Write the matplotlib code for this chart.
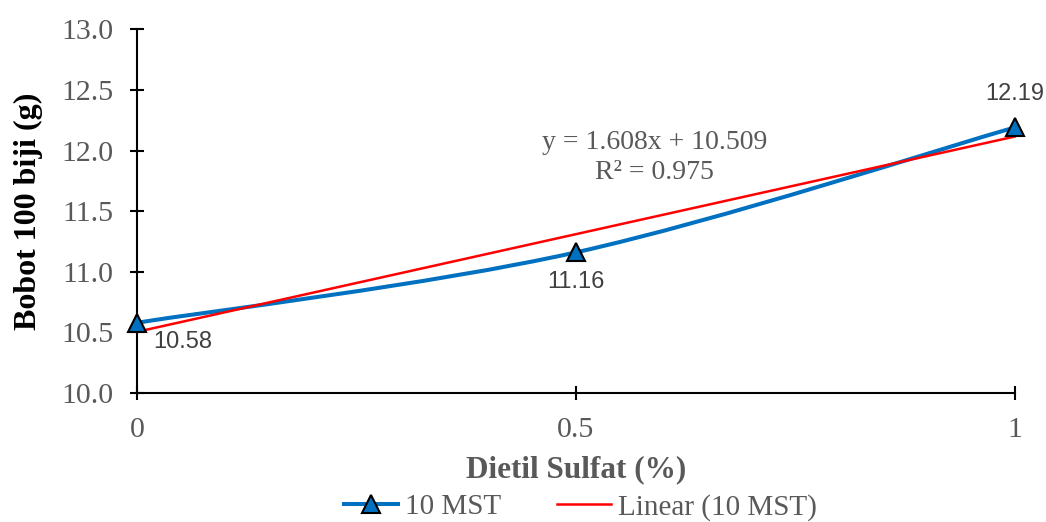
import numpy as np
import matplotlib.pyplot as plt
from matplotlib.path import Path
from matplotlib.patches import PathPatch
from matplotlib.lines import Line2D

# data
dosis = [0, 0.5, 1]
bobot = [10.58, 11.16, 12.19]
label_teks = ["10.58", "11.16", "12.19"]
persamaan = "y = 1.608x + 10.509"
r_kuadrat = "R² = 0.975"

biru = "#0070C0"
merah = "#FF0000"
abu = "#595959"
serif = ["Liberation Serif", "DejaVu Serif"]

fig = plt.figure(figsize=(10.46, 5.22), dpi=100)
ax = fig.add_axes([0.131, 0.247, 0.839, 0.697])

# garis halus ala Excel (bezier dari titik data)
x = np.array(dosis, float)
y = np.array(bobot, float)
pts = np.column_stack([x, y])
ext = np.vstack([pts[0], pts, pts[-1]])
verts = [tuple(pts[0])]
codes = [Path.MOVETO]
for i in range(len(pts) - 1):
    p0, p1, p2, p3 = ext[i], ext[i + 1], ext[i + 2], ext[i + 3]
    c1 = p1 + (p2 - p0) / 6
    c2 = p2 - (p3 - p1) / 6
    verts += [tuple(c1), tuple(c2), tuple(p2)]
    codes += [Path.CURVE4] * 3
ax.add_patch(PathPatch(Path(verts, codes), fill=False, edgecolor=biru,
                       lw=2.9, capstyle="round", zorder=3, clip_on=False))

# trendline linear
k, b = np.polyfit(x, y, 1)
ax.plot(x, k * x + b, color=merah, lw=1.8, zorder=4, clip_on=False)

ax.plot(x, y, ls="none", marker="^", ms=13, mfc=biru, mec="black",
        mew=1.5, zorder=5, clip_on=False)

# label data
ax.annotate(label_teks[0], (x[0], y[0]), xytext=(12, -14), textcoords="offset points",
            ha="left", va="center", fontsize=17, color="#404040",
            family="Liberation Sans")
ax.annotate(label_teks[1], (x[1], y[1]), xytext=(0, -21), textcoords="offset points",
            ha="center", va="center", fontsize=17, color="#404040",
            family="Liberation Sans")
ax.annotate(label_teks[2], (x[2], y[2]), xytext=(0, 24), textcoords="offset points",
            ha="center", va="center", fontsize=17, color="#404040",
            family="Liberation Sans")

ax.text(0.59, 12.07, persamaan, ha="center", va="center", fontsize=20,
        color=abu, family=serif)
ax.text(0.59, 11.82, r_kuadrat, ha="center", va="center", fontsize=20,
        color=abu, family=serif)

ax.set_xlim(0, 1)
ax.set_ylim(10.0, 13.0)
ax.set_xticks(dosis)
ax.set_xticklabels(["0", "0.5", "1"])
ax.set_yticks(np.arange(10.0, 13.01, 0.5))
ax.set_yticklabels([f"{v:.1f}" for v in np.arange(10.0, 13.01, 0.5)])
for s in ["top", "right"]:
    ax.spines[s].set_visible(False)
for s in ["left", "bottom"]:
    ax.spines[s].set_linewidth(1.5)
    ax.spines[s].set_color("black")
    ax.spines[s].set_zorder(2)
ax.tick_params(direction="inout", length=10, width=1.5, colors="black",
               labelcolor=abu, labelsize=21.5)
ax.tick_params(axis="y", pad=12)
ax.tick_params(axis="x", pad=12)
for t in ax.get_xticklabels() + ax.get_yticklabels():
    t.set_family(serif)

ax.set_xlabel("Dietil Sulfat (%)", fontsize=22.5, fontweight="bold", color=abu,
              family=serif, labelpad=9)
ax.set_ylabel("Bobot 100 biji (g)", fontsize=23, fontweight="bold", color="black",
              family=serif, labelpad=13)

handles = [
    Line2D([], [], color=biru, lw=2.9, marker="^", ms=13, mfc=biru, mec="black", mew=1.5),
    Line2D([], [], color=merah, lw=1.8),
]
fig.legend(handles, ["10 MST", "Linear (10 MST)"], loc="lower center",
           bbox_to_anchor=(0.555, -0.048), ncol=2, frameon=False,
           prop={"family": serif, "size": 21}, labelcolor=abu,
           handlelength=1.85, handletextpad=0.25, columnspacing=1.9)

fig.savefig("out.png", dpi=100)
